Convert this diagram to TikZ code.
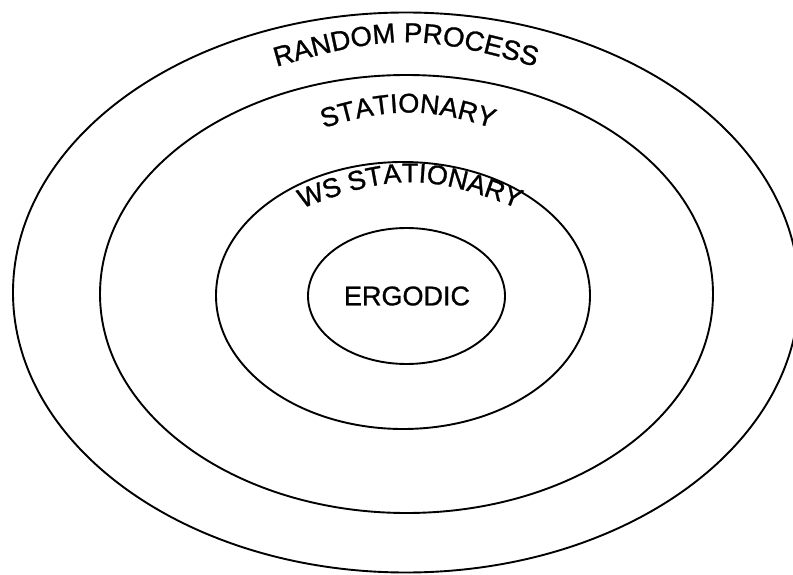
\documentclass[tikz,border=0pt]{standalone}
\usepackage{fontspec}
\setmainfont[FakeBold=1]{Liberation Sans}
\usetikzlibrary{decorations.text}
\begin{document}
\begin{tikzpicture}[x=1pt,y=1pt,
  ring/.style={draw=black, line width=1.9pt},
  curvetext/.style={decorate, decoration={text along path, text align=center, text format delimiters={|}{|}}}]
\useasboundingbox (0,0) rectangle (793,574);
\clip (0,0) rectangle (793,574);
\draw[ring] (406,281.5) ellipse [x radius=393pt, y radius=280pt];
\draw[ring] (406.5,280) ellipse [x radius=306.5pt, y radius=219pt];
\draw[ring] (403,278.5) ellipse [x radius=187pt, y radius=133.5pt];
\draw[ring] (406.5,278) ellipse [x radius=98.5pt, y radius=68pt];
\node[font=\fontsize{27}{27}\selectfont, inner sep=0pt] (erg) at (407,278) {ERGODIC};
\coordinate (rpL) at (206,486);
\coordinate (rpC) at (406,547);
\coordinate (rpR) at (606,486);
\path[curvetext, decoration={text={|\fontsize{27.5}{27.5}\selectfont|RANDOM PROCESS}}] (rpL) .. controls (rpC) .. (rpR);
\coordinate (stL) at (208,403);
\coordinate (stC) at (408,481);
\coordinate (stR) at (608,403);
\path[curvetext, decoration={text={|\fontsize{27}{27}\selectfont|STATIONARY}}] (stL) .. controls (stC) .. (stR);
\coordinate (wsL) at (210,326.5);
\coordinate (wsC) at (410,413.5);
\coordinate (wsR) at (610,326.5);
\path[curvetext, decoration={text={|\fontsize{27}{27}\selectfont|WS STATIONARY}}] (wsL) .. controls (wsC) .. (wsR);
\end{tikzpicture}
\end{document}
